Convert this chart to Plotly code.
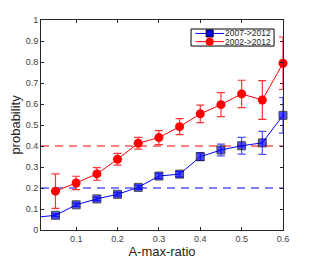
import plotly.graph_objects as go

x_vals = [0.0, 0.05, 0.1, 0.15, 0.2, 0.25, 0.3, 0.35, 0.4, 0.45, 0.5, 0.55, 0.6]
blue_vals = [0.06, 0.07, 0.12, 0.148, 0.17, 0.203, 0.257, 0.266, 0.349, 0.381, 0.401, 0.415, 0.546]
blue_err = [None, 0.006, 0.008, 0.008, 0.009, 0.01, 0.012, 0.013, 0.018, 0.028, 0.04, 0.055, 0.085]
red_vals = [None, 0.185, 0.224, 0.267, 0.337, 0.413, 0.44, 0.492, 0.553, 0.597, 0.648, 0.619, 0.794]
red_err = [None, 0.082, 0.032, 0.03, 0.028, 0.028, 0.033, 0.038, 0.042, 0.057, 0.065, 0.092, 0.125]
series_names = ["2007->2012", "2002->2012"]
blue_ref = 0.2
red_ref = 0.4
x_ticks = [0.1, 0.2, 0.3, 0.4, 0.5, 0.6]
y_ticks = [0, 0.1, 0.2, 0.3, 0.4, 0.5, 0.6, 0.7, 0.8, 0.9, 1]

BLUE = "#0000ff"
RED = "#ff0000"
FONT = "Liberation Sans, Arial, sans-serif"

# hide the marker of the off-axis point (its line segment is still drawn & clipped)
blue_sizes = [0 if v < 0.015 else 8 for v in x_vals]

fig = go.Figure()
fig.add_trace(go.Scatter(
    x=x_vals, y=blue_vals, name=series_names[0], mode="lines+markers",
    line=dict(color=BLUE, width=1),
    marker=dict(symbol="square", size=blue_sizes, color=BLUE, line=dict(color="black", width=1)),
    error_y=dict(type="data", array=blue_err, visible=True, color="#4d4dff", thickness=1.2, width=4),
    cliponaxis=False, showlegend=False,
))
fig.add_trace(go.Scatter(
    x=x_vals, y=red_vals, name=series_names[1], mode="lines+markers",
    line=dict(color=RED, width=1),
    marker=dict(symbol="circle", size=9, color=RED, line=dict(color=RED, width=0)),
    error_y=dict(type="data", array=red_err, visible=True, color="#ff3333", thickness=1.2, width=4),
    cliponaxis=False, showlegend=False,
))

for val, col in [(blue_ref, BLUE), (red_ref, RED)]:
    fig.add_shape(type="line", xref="paper", x0=0, x1=1, yref="y", y0=val, y1=val,
                  line=dict(color=col, width=1, dash="8px,6px"), layer="below")

# compact MATLAB-style legend box
fig.add_shape(type="rect", xref="paper", yref="paper", x0=0.62, x1=0.963, y0=0.876, y1=0.957,
              line=dict(color="black", width=1), fillcolor="white", layer="above")
legend_rows = [(0.936, BLUE, "square", "black"), (0.897, RED, "circle", RED)]
for (ly, col, sym, edge), name in zip(legend_rows, series_names):
    fig.add_shape(type="line", xref="paper", yref="paper", x0=0.638, x1=0.757, y0=ly, y1=ly,
                  line=dict(color=col, width=1), layer="above")
    if sym == "square":
        fig.add_shape(type="rect", xref="paper", yref="paper", xsizemode="pixel", ysizemode="pixel",
                      xanchor=0.697, yanchor=ly, x0=-3.5, x1=3.5, y0=-3.5, y1=3.5,
                      line=dict(color=edge, width=1), fillcolor=col, layer="above")
    else:
        fig.add_shape(type="circle", xref="paper", yref="paper", xsizemode="pixel", ysizemode="pixel",
                      xanchor=0.697, yanchor=ly, x0=-4, x1=4, y0=-4, y1=4,
                      line=dict(color=edge, width=0), fillcolor=col, layer="above")
    fig.add_annotation(x=0.758, y=ly, xref="paper", yref="paper", text=name, showarrow=False,
                       xanchor="left", yanchor="middle", borderpad=0,
                       font=dict(family=FONT, size=8.5, color="#262626"))

axis_common = dict(
    showline=True, linecolor="#262626", linewidth=1, mirror="ticks",
    ticks="inside", ticklen=3, tickcolor="#262626", showgrid=False, zeroline=False,
    automargin=False,
    tickfont=dict(family=FONT, size=9, color="#404040"),
)

fig.update_layout(
    width=304, height=252,
    margin=dict(l=33, r=29, t=12, b=30),
    paper_bgcolor="white", plot_bgcolor="white",
    font=dict(family=FONT, color="#262626"),
    xaxis=dict(range=[0.015, 0.6], tickvals=x_ticks, ticktext=[str(v) for v in x_ticks],
               title=dict(text="A-max-ratio", font=dict(size=13, color="#262626"), standoff=0),
               **axis_common),
    yaxis=dict(range=[0, 1], tickvals=y_ticks, ticktext=[("%g" % v) for v in y_ticks],
               title=dict(text="probability", font=dict(size=13, color="#262626"), standoff=6),
               **axis_common),
    showlegend=False,
)

fig.write_html("out.html")
